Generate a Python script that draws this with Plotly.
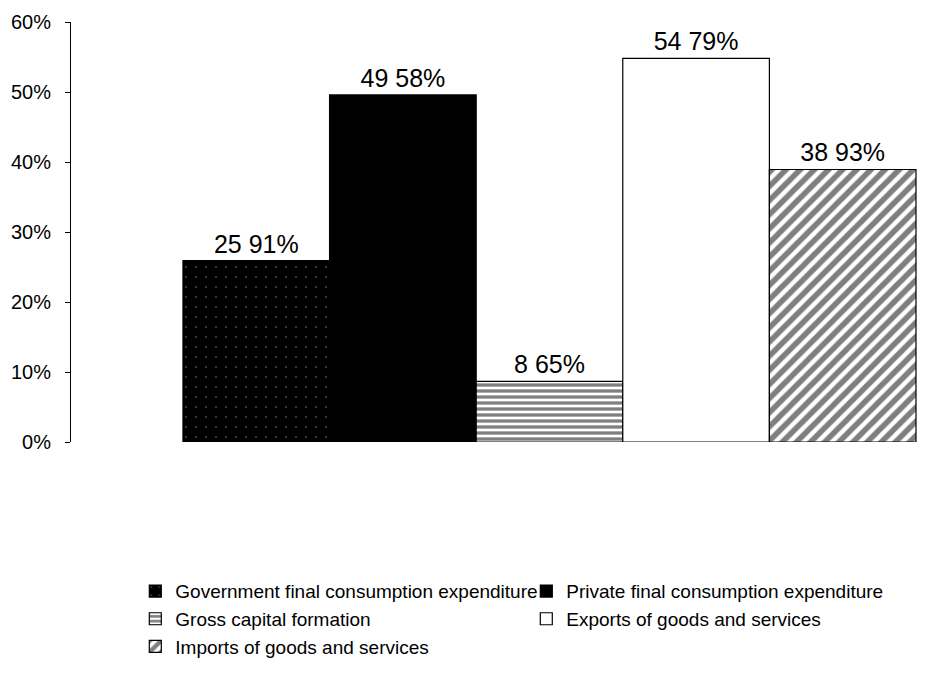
import plotly.graph_objects as go

series = ["Government final consumption expenditure",
          "Private final consumption expenditure",
          "Gross capital formation",
          "Exports of goods and services",
          "Imports of goods and services"]
values = [25.91, 49.58, 8.65, 54.79, 38.93]
labels = ["25 91%", "49 58%", "8 65%", "54 79%", "38 93%"]
category = [""]

styles = [
    dict(color="black", pattern=dict(shape=".", fgcolor="white", size=10, solidity=0.02)),
    dict(color="black"),
    dict(color="white", pattern=dict(shape="-", fgcolor="black", size=6, solidity=0.55)),
    dict(color="white"),
    dict(color="white", pattern=dict(shape="/", fgcolor="black", size=10, solidity=0.55)),
]

fig = go.Figure()
for name, v, lab, st in zip(series, values, labels, styles):
    fig.add_trace(go.Bar(
        x=category, y=[v], name=name, text=[lab], textposition="outside",
        textfont=dict(size=25, color="black", family="Liberation Sans"),
        cliponaxis=False,
        marker=dict(line=dict(color="black", width=1.2), **st),
    ))

fig.update_layout(
    width=909, height=657,
    paper_bgcolor="white", plot_bgcolor="white",
    margin=dict(l=63, r=0, t=14, b=223, autoexpand=False),
    barmode="group", bargap=0.2, bargroupgap=0,
    font=dict(family="Liberation Sans", color="black"),
    showlegend=True,
    legend=dict(orientation="h", x=0.076, xanchor="left", y=-0.31, yanchor="top",
                entrywidth=346, entrywidthmode="pixels",
                font=dict(size=19, family="Liberation Sans"),
                itemwidth=30, tracegroupgap=0, traceorder="normal"),
)
fig.update_xaxes(range=[-0.5222, 0.4011], showticklabels=False, showline=False,
                 ticks="", showgrid=False, zeroline=False)
fig.update_yaxes(range=[0, 60], dtick=10, ticksuffix="%", showgrid=False,
                 zeroline=False, showline=True, linecolor="black", linewidth=1,
                 ticks="outside", ticklen=5, tickcolor="black",
                 ticklabelstandoff=10,
                 tickfont=dict(size=20, family="Liberation Sans"))

fig.write_html("out.html")
